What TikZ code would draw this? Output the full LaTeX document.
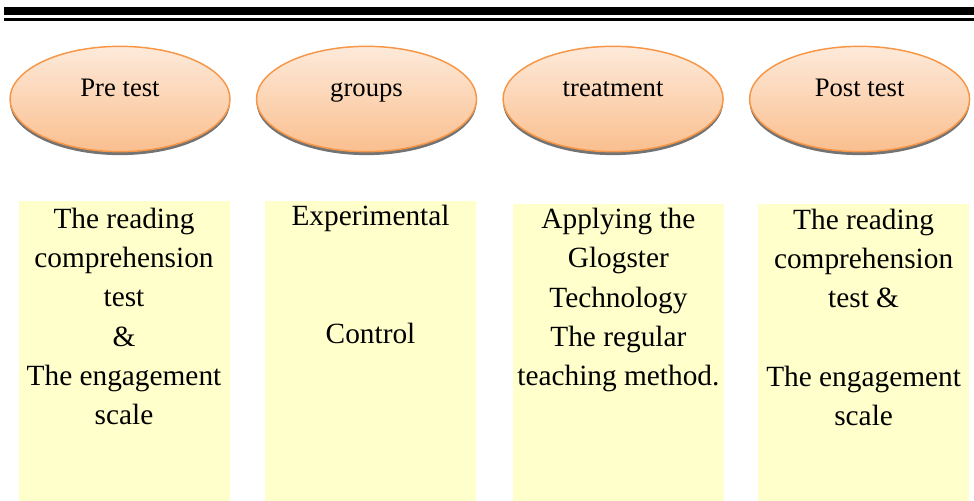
\documentclass[tikz,border=0pt]{standalone}
\usepackage{fontspec}
\setmainfont{Liberation Serif}
\usetikzlibrary{positioning,shapes.geometric,shadows}
\definecolor{PeachTop}{RGB}{253,234,218}
\definecolor{PeachBottom}{RGB}{250,191,143}
\definecolor{PeachEdge}{RGB}{247,150,70}
\definecolor{PaleYellow}{RGB}{255,255,204}
\tikzset{
  phase/.style={ellipse, draw=PeachEdge, line width=1.1pt,
                top color=PeachTop, bottom color=PeachBottom,
                minimum width=165pt, minimum height=79pt, inner sep=0pt,
                drop shadow={shadow xshift=0pt, shadow yshift=-2.6pt,
                             fill=black!55, opacity=1}},
  phasetext/.style={anchor=base, inner sep=0pt, font=\fontsize{20pt}{24pt}\selectfont},
  bin/.style={fill=PaleYellow, minimum width=158.25pt, inner sep=0pt},
  bintext/.style={align=center, inner sep=0pt,
                  font=\fontsize{22pt}{29.5pt}\selectfont}
}

\begin{document}
\begin{tikzpicture}[node distance=18.8pt]
\useasboundingbox (0,0) rectangle (730.5pt,-375pt);

% double rule across the top
\draw[line width=6pt] (3pt,-8.25pt) -- (730.5pt,-8.25pt);
\draw[line width=2.25pt] (3pt,-14.6pt) -- (730.5pt,-14.6pt);

% the four stages
\node[phase] (pre) at (90pt,-74.25pt) {};
\node[phase, right=of pre] (grp) {};
\node[phase, right=of grp] (trt) {};
\node[phase, right=of trt] (post) {};
\node[phasetext] (pretxt) at ([yshift=2.25pt]pre.center) {Pre test};
\node[phasetext] (grptxt) at ([yshift=2.25pt]grp.center) {groups};
\node[phasetext] (trttxt) at ([yshift=2.25pt]trt.center) {treatment};
\node[phasetext] (posttxt) at ([yshift=2.25pt]post.center) {Post test};

% what happens in each stage
\node[bin, minimum height=225pt, below=36.4pt of pre.south, xshift=3pt] (preb) {};
\node[bin, minimum height=225pt, below=36.4pt of grp.south, xshift=3pt] (grpb) {};
\node[bin, minimum height=222.75pt, below=38.6pt of trt.south, xshift=4pt] (trtb) {};
\node[bin, minimum height=222.75pt, below=38.6pt of post.south, xshift=3pt] (postb) {};

\node[bintext, below=5pt of preb.north] (prelist)
  {The reading\\comprehension\\test\\\&\\The engagement\\scale};
\node[bintext, below=3pt of grpb.north] (grplist)
  {Experimental\\~\\~\\Control};
\node[bintext, below=3pt of trtb.north] (trtlist)
  {Applying the\\Glogster\\Technology\\The regular\\teaching method.};
\node[bintext, below=3.5pt of postb.north] (postlist)
  {The reading\\comprehension\\test \&\\~\\The engagement\\scale};
\end{tikzpicture}
\end{document}
